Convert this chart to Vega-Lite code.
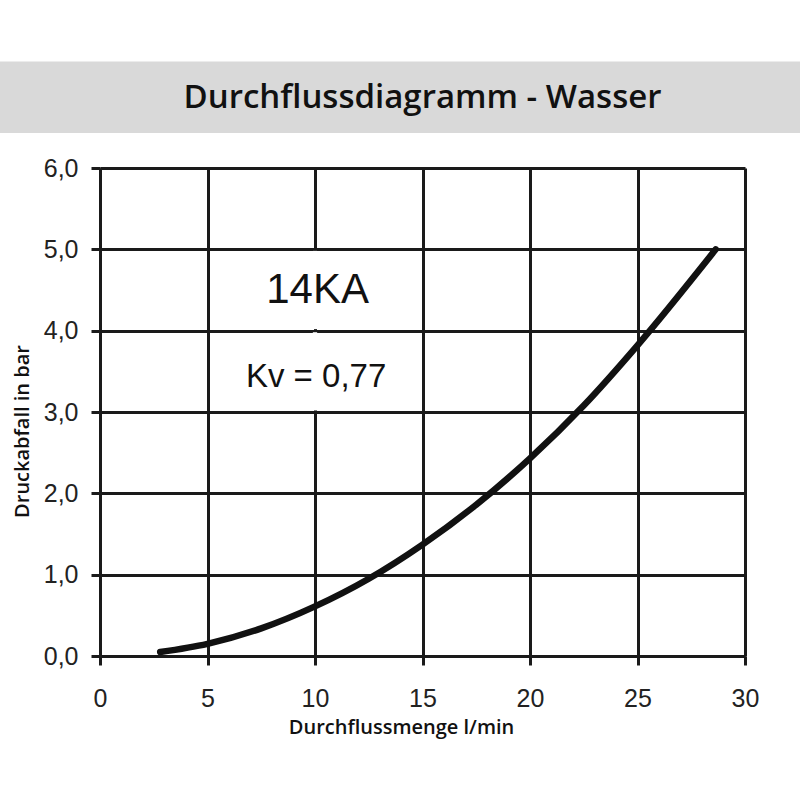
{
  "$schema": "https://vega.github.io/schema/vega-lite/v6.json",
  "width": 645,
  "height": 488,
  "autosize": {"type": "none"},
  "padding": {"left": 100, "top": 168, "right": 55, "bottom": 144},
  "background": "white",
  "config": {
    "view": {"stroke": null},
    "axis": {
      "grid": true,
      "gridColor": "#1a1a1a",
      "gridWidth": 3,
      "gridOpacity": 1,
      "domainColor": "#1a1a1a",
      "domainWidth": 3,
      "tickColor": "#1a1a1a",
      "tickWidth": 3,
      "tickSize": 9,
      "labelFlush": false,
      "labelFont": "Liberation Sans",
      "labelFontSize": 25,
      "labelColor": "#222222",
      "titleFont": "Open Sans",
      "titleFontWeight": 600,
      "titleFontSize": 20,
      "titleColor": "#111111"
    }
  },
  "layer": [
    {
      "data": {"values": [{"band": "title"}]},
      "mark": {"type": "rect", "color": "#d9d9d9", "clip": false},
      "encoding": {
        "x": {"datum": -4.66, "type": "quantitative", "scale": {"domain": [0, 30], "nice": false}},
        "x2": {"datum": 32.6},
        "y": {"datum": 7.31, "type": "quantitative", "scale": {"domain": [0, 6], "nice": false}},
        "y2": {"datum": 6.43}
      }
    },
    {
      "data": {"values": [{"x": 15, "y": 6.86, "label": "Durchflussdiagramm - Wasser"}]},
      "mark": {"type": "text", "font": "Open Sans", "fontSize": 33, "fontWeight": 600, "color": "#111111", "baseline": "middle", "align": "center", "clip": false},
      "encoding": {
        "x": {"field": "x", "type": "quantitative", "scale": {"domain": [0, 30], "nice": false}},
        "y": {"field": "y", "type": "quantitative", "scale": {"domain": [0, 6], "nice": false}},
        "text": {"field": "label"}
      }
    },
    {
      "data": {"values": [{"x1": 9.9, "x2": 10.1, "y1": 3.019, "y2": 3.981}, {"x1": 9.9, "x2": 10.1, "y1": 4.019, "y2": 4.981}]},
      "mark": {"type": "rect", "color": "white"},
      "encoding": {
        "x": {"field": "x1", "type": "quantitative", "scale": {"domain": [0, 30], "nice": false}},
        "x2": {"field": "x2"},
        "y": {"field": "y1", "type": "quantitative", "scale": {"domain": [0, 6], "nice": false}},
        "y2": {"field": "y2"}
      }
    },
    {
      "data": {
        "values": [
          {"q": 2.8, "dp": 0.05},
          {"q": 5.0, "dp": 0.15},
          {"q": 7.5, "dp": 0.34},
          {"q": 10.0, "dp": 0.61},
          {"q": 12.5, "dp": 0.95},
          {"q": 15.0, "dp": 1.37},
          {"q": 17.5, "dp": 1.86},
          {"q": 20.0, "dp": 2.43},
          {"q": 22.5, "dp": 3.08},
          {"q": 25.0, "dp": 3.82},
          {"q": 28.64, "dp": 5.0}
        ]
      },
      "mark": {"type": "line", "color": "#111111", "strokeWidth": 6.5, "strokeCap": "round", "interpolate": "monotone"},
      "encoding": {
        "x": {
          "field": "q",
          "type": "quantitative",
          "scale": {"domain": [0, 30], "nice": false},
          "axis": {
            "values": [0, 5, 10, 15, 20, 25, 30],
            "labelPadding": 21,
            "title": "Durchflussmenge l/min",
            "titleX": 301,
            "titleY": 71,
            "titleAlign": "center",
            "titleBaseline": "middle"
          }
        },
        "y": {
          "field": "dp",
          "type": "quantitative",
          "scale": {"domain": [0, 6], "nice": false},
          "axis": {
            "values": [0, 1, 2, 3, 4, 5, 6],
            "labelExpr": "replace(format(datum.value, '.1f'), '.', ',')",
            "labelPadding": 13,
            "title": "Druckabfall in bar",
            "titleX": -78,
            "titleY": 263,
            "titleAngle": 270,
            "titleAlign": "center",
            "titleBaseline": "middle"
          }
        }
      }
    },
    {
      "data": {"values": [{"x": 10.12, "y": 4.494, "label": "14KA"}]},
      "mark": {"type": "text", "font": "Liberation Sans", "fontSize": 42, "color": "#111111", "baseline": "middle", "align": "center"},
      "encoding": {
        "x": {"field": "x", "type": "quantitative", "scale": {"domain": [0, 30], "nice": false}},
        "y": {"field": "y", "type": "quantitative", "scale": {"domain": [0, 6], "nice": false}},
        "text": {"field": "label"}
      }
    },
    {
      "data": {"values": [{"x": 10.05, "y": 3.43, "label": "Kv = 0,77"}]},
      "mark": {"type": "text", "font": "Liberation Sans", "fontSize": 33, "color": "#111111", "baseline": "middle", "align": "center"},
      "encoding": {
        "x": {"field": "x", "type": "quantitative", "scale": {"domain": [0, 30], "nice": false}},
        "y": {"field": "y", "type": "quantitative", "scale": {"domain": [0, 6], "nice": false}},
        "text": {"field": "label"}
      }
    }
  ]
}
